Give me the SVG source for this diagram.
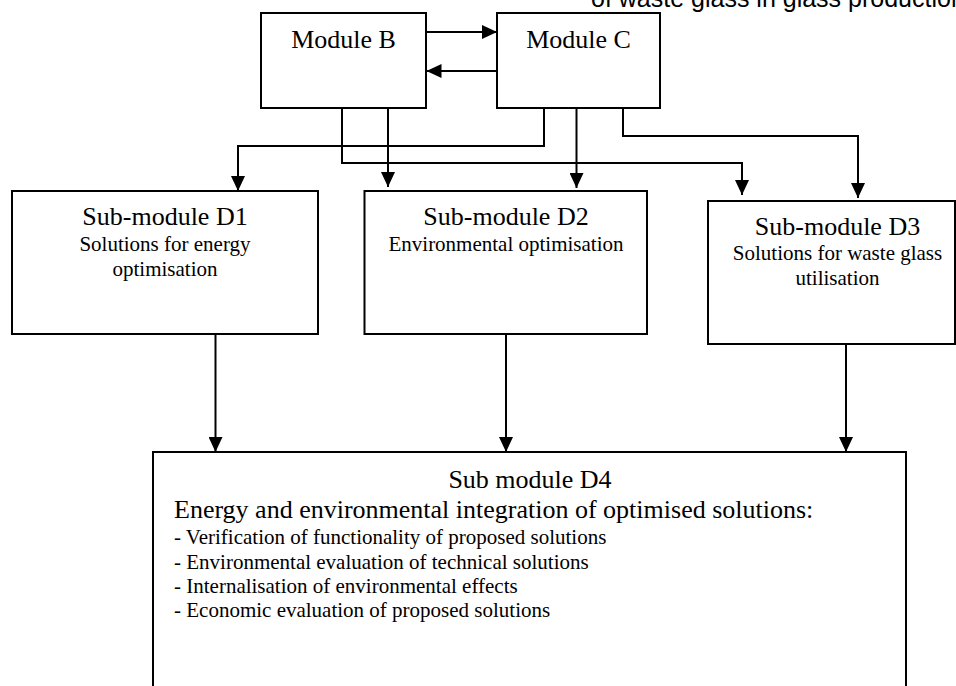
<svg xmlns="http://www.w3.org/2000/svg" width="956" height="686" viewBox="0 0 956 686">
<style>
.box{fill:#fff;stroke:#000;stroke-width:2}
.con{fill:none;stroke:#000;stroke-width:2}
.t{font-family:"Liberation Serif","Times New Roman",serif;fill:#000;text-anchor:middle}
.big{font-size:26px}
.sub{font-size:21px}
.lst{font-family:"Liberation Serif","Times New Roman",serif;font-size:21px;fill:#000}
.top{font-family:"Liberation Sans",Arial,sans-serif;font-size:25px;fill:#000}
</style>
<defs>
<marker id="ah" markerUnits="userSpaceOnUse" markerWidth="15" markerHeight="14" refX="15" refY="7" orient="auto">
<path d="M0,0 L15,7 L0,14 z" fill="#000"/>
</marker>
</defs>
<rect width="956" height="686" fill="#fff"/>
<text class="top" x="591" y="7">of waste glass in glass production</text>
<g id="moduleB">
<rect class="box" x="261" y="13" width="165" height="95"/>
<text class="t big" x="343.5" y="48">Module B</text>
</g>
<g id="moduleC">
<rect class="box" x="497" y="13" width="163" height="95"/>
<text class="t big" x="578.5" y="48">Module C</text>
</g>
<g id="D1">
<rect class="box" x="12" y="191" width="306" height="143"/>
<text class="t big" x="165" y="225">Sub-module D1</text>
<text class="t sub" x="165" y="251">Solutions for energy</text>
<text class="t sub" x="165" y="276">optimisation</text>
</g>
<g id="D2">
<rect class="box" x="364.5" y="191" width="282.5" height="143"/>
<text class="t big" x="506" y="225">Sub-module D2</text>
<text class="t sub" x="506" y="251">Environmental optimisation</text>
</g>
<g id="D3">
<rect class="box" x="708" y="201" width="247" height="143"/>
<text class="t big" x="837.5" y="235">Sub-module D3</text>
<text class="t sub" x="837.5" y="260">Solutions for waste glass</text>
<text class="t sub" x="837.5" y="285">utilisation</text>
</g>
<g id="D4">
<rect class="box" x="153" y="452" width="753" height="250"/>
<text class="t big" x="530" y="488">Sub module D4</text>
<text class="lst" x="174" y="518" style="font-size:26px">Energy and environmental integration of optimised solutions:</text>
<text class="lst" x="174" y="544">- Verification of functionality of proposed solutions</text>
<text class="lst" x="174" y="568.5">- Environmental evaluation of technical solutions</text>
<text class="lst" x="174" y="593">- Internalisation of environmental effects</text>
<text class="lst" x="174" y="617">- Economic evaluation of proposed solutions</text>
</g>
<g id="connectors">
<path class="con" d="M426,32 H497" marker-end="url(#ah)"/>
<path class="con" d="M497,71 H426.5" marker-end="url(#ah)"/>
<path class="con" d="M544,108 V146 H238 V191" marker-end="url(#ah)"/>
<path class="con" d="M342,108 V163 H742 V195" marker-end="url(#ah)"/>
<path class="con" d="M388,108 V187" marker-end="url(#ah)"/>
<path class="con" d="M576.5,108 V188" marker-end="url(#ah)"/>
<path class="con" d="M623,108 V136 H858 V198" marker-end="url(#ah)"/>
<path class="con" d="M215.5,334 V452" marker-end="url(#ah)"/>
<path class="con" d="M506,334 V452" marker-end="url(#ah)"/>
<path class="con" d="M846,344 V452" marker-end="url(#ah)"/>
</g>
</svg>
